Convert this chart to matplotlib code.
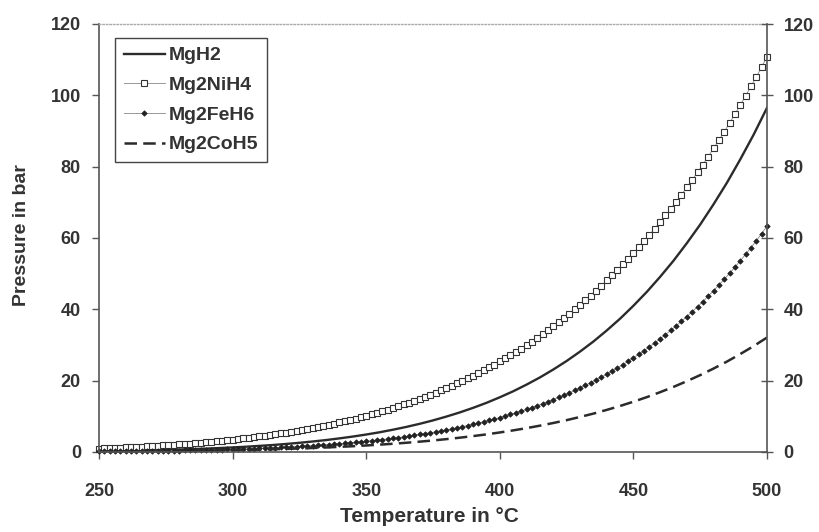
import numpy as np
import matplotlib
matplotlib.use("Agg")
import matplotlib.pyplot as plt

plt.rcParams['font.family'] = ['Liberation Sans', 'DejaVu Sans']
plt.rcParams['font.weight'] = 'bold'

# temperatures in degC
temp_fine = np.arange(250, 501, 2)      # marker series (2 degC steps)
temp_line = np.arange(250, 501, 5)      # line series (5 degC steps)

# pressures in bar
mgh2 = [0.26, 0.31, 0.37, 0.43, 0.51, 0.60, 0.70, 0.82, 0.95, 1.11,
        1.28, 1.48, 1.71, 1.96, 2.25, 2.58, 2.95, 3.35, 3.82, 4.33,
        4.90, 5.53, 6.25, 7.03, 7.90, 8.86, 9.93, 11.09, 12.38, 13.78,
        15.34, 17.02, 18.89, 20.90, 23.12, 25.51, 28.14, 30.96, 34.06, 37.37,
        41.00, 44.88, 49.11, 53.62, 58.55, 63.77, 69.46, 75.49, 82.05, 88.98,
        96.50]

mg2nih4 = [0.97, 1.02, 1.08, 1.14, 1.21, 1.27, 1.34, 1.42, 1.49, 1.57,
           1.66, 1.75, 1.84, 1.93, 2.04, 2.14, 2.25, 2.36, 2.48, 2.61,
           2.74, 2.87, 3.01, 3.16, 3.32, 3.48, 3.64, 3.81, 3.99, 4.18,
           4.37, 4.57, 4.78, 5.00, 5.22, 5.46, 5.70, 5.95, 6.21, 6.48,
           6.76, 7.05, 7.35, 7.66, 7.98, 8.32, 8.66, 9.02, 9.39, 9.77,
           10.17, 10.58, 11.00, 11.43, 11.89, 12.36, 12.83, 13.32, 13.84, 14.37,
           14.92, 15.47, 16.05, 16.65, 17.26, 17.91, 18.55, 19.22, 19.91, 20.63,
           21.38, 22.12, 22.90, 23.70, 24.53, 25.38, 26.24, 27.13, 28.05, 29.00,
           29.99, 30.97, 31.99, 33.05, 34.13, 35.26, 36.39, 37.55, 38.75, 39.99,
           41.27, 42.55, 43.87, 45.24, 46.64, 48.09, 49.55, 51.04, 52.58, 54.17,
           55.80, 57.44, 59.13, 60.86, 62.65, 64.48, 66.33, 68.22, 70.17, 72.17,
           74.23, 76.30, 78.42, 80.59, 82.83, 85.13, 87.44, 89.80, 92.23, 94.73,
           97.29, 99.86, 102.49, 105.19, 107.96, 110.80]

mg2feh6 = [0.150, 0.161, 0.173, 0.185, 0.199, 0.213, 0.228, 0.244, 0.261, 0.279,
           0.299, 0.319, 0.340, 0.363, 0.387, 0.414, 0.440, 0.469, 0.499, 0.532,
           0.566, 0.601, 0.639, 0.679, 0.721, 0.766, 0.813, 0.862, 0.914, 0.969,
           1.027, 1.087, 1.150, 1.217, 1.287, 1.362, 1.439, 1.520, 1.605, 1.695,
           1.791, 1.888, 1.991, 2.099, 2.213, 2.333, 2.455, 2.584, 2.720, 2.863,
           3.013, 3.166, 3.327, 3.496, 3.674, 3.861, 4.051, 4.250, 4.459, 4.678,
           4.909, 5.143, 5.388, 5.645, 5.914, 6.196, 6.482, 6.782, 7.095, 7.423,
           7.766, 8.113, 8.477, 8.856, 9.253, 9.668, 10.088, 10.526, 10.984, 11.461,
           11.959, 12.462, 12.988, 13.535, 14.106, 14.701, 15.303, 15.930, 16.582, 17.262,
           17.969, 18.683, 19.426, 20.199, 21.002, 21.837, 22.681, 23.558, 24.469, 25.415,
           26.398, 27.390, 28.419, 29.486, 30.594, 31.744, 32.904, 34.108, 35.355, 36.648,
           37.988, 39.340, 40.738, 42.187, 43.687, 45.240, 46.806, 48.426, 50.102, 51.836,
           53.630, 55.437, 57.307, 59.240, 61.238, 63.300]

mg2coh5 = [0.11, 0.13, 0.15, 0.18, 0.21, 0.24, 0.28, 0.33, 0.38, 0.44,
           0.50, 0.58, 0.66, 0.76, 0.87, 0.99, 1.12, 1.27, 1.44, 1.62,
           1.83, 2.06, 2.31, 2.59, 2.90, 3.23, 3.61, 4.01, 4.46, 4.94,
           5.48, 6.06, 6.69, 7.38, 8.13, 8.93, 9.82, 10.76, 11.80, 12.90,
           14.10, 15.38, 16.77, 18.25, 19.86, 21.56, 23.40, 25.35, 27.47, 29.69,
           32.10]

xticks = [250, 300, 350, 400, 450, 500]
yticks = [0, 20, 40, 60, 80, 100, 120]

ink = '#2b2b2b'
txt = '#333333'

fig = plt.figure(figsize=(8.19, 5.32), dpi=100)
ax = fig.add_axes([99/819, 80/532, 668/819, 428/532])

ax.plot(temp_line, mgh2, color=ink, lw=1.7, label='MgH2')
ax.plot(temp_fine, mg2nih4, color='#888888', lw=0.6, marker='s', ms=4,
        mfc='white', mec='#333333', mew=0.8, clip_on=False, label='Mg2NiH4')
ax.plot(temp_fine, mg2feh6, color='#888888', lw=0.6, marker='D', ms=2.8,
        mfc='#222222', mec='#222222', mew=0.5, clip_on=False, label='Mg2FeH6')
ax.plot(temp_line, mg2coh5, color=ink, lw=1.8, dashes=(5, 2.5), label='Mg2CoH5')

ax.set_xlim(250, 500)
ax.set_ylim(0, 120)
ax.set_xticks(xticks)
ax.set_yticks(yticks)
ax.tick_params(axis='x', direction='out', length=5, width=1, color='#555555',
               labelsize=13, labelcolor=txt, pad=17)
ax.tick_params(axis='y', direction='out', length=5, width=1, color='#555555',
               labelsize=13, labelcolor=txt, pad=8)

for s in ['left', 'bottom']:
    ax.spines[s].set_color('#555555')
    ax.spines[s].set_linewidth(1.2)
ax.spines['right'].set_visible(False)
ax.spines['top'].set_linestyle((0, (1, 1.5)))
ax.spines['top'].set_color('#aaaaaa')
ax.spines['top'].set_linewidth(1.0)

ax2 = ax.twinx()
ax2.set_ylim(0, 120)
ax2.set_yticks(yticks)
ax2.tick_params(axis='y', direction='inout', length=8, width=1, color='#555555',
                labelsize=13, labelcolor=txt, pad=8)
for s in ['left', 'bottom', 'top']:
    ax2.spines[s].set_visible(False)
ax2.spines['right'].set_color('#555555')
ax2.spines['right'].set_linewidth(1.2)

leg = ax.legend(loc='upper left', bbox_to_anchor=(0.024, 0.967), borderaxespad=0,
                fontsize=14, handlelength=2.1, handletextpad=0.2, labelspacing=0.62,
                numpoints=1, fancybox=False, framealpha=1, edgecolor='#444444',
                borderpad=0.45)
leg.get_frame().set_linewidth(1.0)
for t in leg.get_texts():
    t.set_color(txt)

fig.text(22/819, 1 - 235/532, 'Pressure in bar', rotation=90, ha='center',
         va='center', fontsize=14, color=txt)
fig.text(429/819, 1 - 517/532, 'Temperature in °C', ha='center', va='center',
         fontsize=15, color=txt)

fig.savefig('out.png', dpi=100)
